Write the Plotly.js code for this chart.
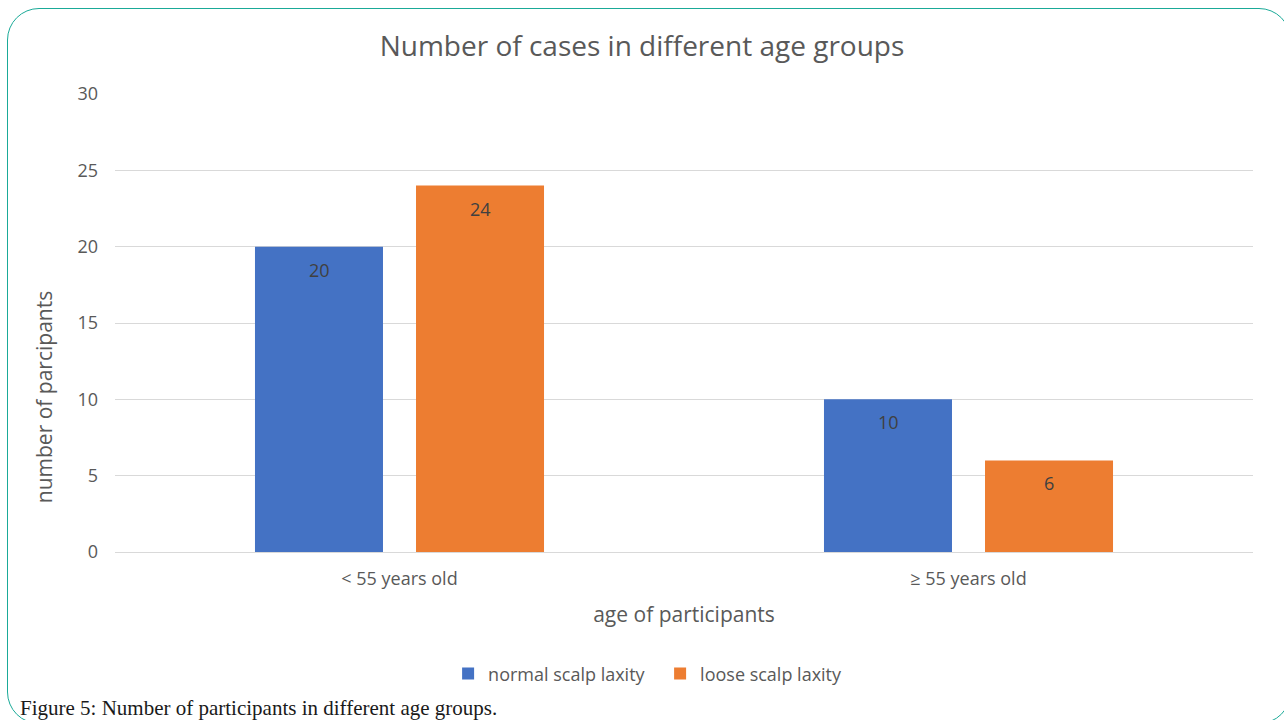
<!DOCTYPE html>
<html><head><meta charset="utf-8">
<script src="https://cdn.plot.ly/plotly-3.0.1.min.js"></script>
<style>
html,body{margin:0;padding:0;background:#fff;}
#frame{position:absolute;left:7px;top:8px;width:1284px;height:716px;border:1.5px solid #1aaa98;border-radius:32px;box-sizing:border-box;}
#chart{position:absolute;left:0;top:0;width:1284px;height:720px;}
</style></head>
<body>
<div id="frame"></div>
<div id="chart"></div>
<script>
const categories = ["< 55 years old", "\u2265 55 years old"];
const normalScalp = [20, 10];
const looseScalp = [24, 6];
const seriesNames = ["normal scalp laxity", "loose scalp laxity"];
const yTicks = [0, 5, 10, 15, 20, 25, 30];

const FONT = "Open Sans, sans-serif";
const GRAY = "#595959";
const series = [normalScalp, looseScalp];
const colors = ["#4472C4", "#ED7D31"];
const traces = series.map((vals, i) => ({
  type: "bar", name: seriesNames[i], x: categories, y: vals, marker: {color: colors[i]}, hoverinfo: "none"
}));
// value labels sit just inside the top of each bar
const slotShift = [-80.5, 80.5];
const valueLabels = [];
series.forEach((vals, i) => vals.forEach((v, j) => valueLabels.push({
  x: categories[j], y: v, xref: "x", yref: "y", text: String(v), showarrow: false,
  xshift: slotShift[i], yshift: -23, yanchor: "middle", xanchor: "center",
  font: {family: FONT, size: 18, color: "#404040"}
})));

const layout = {
  width: 1284, height: 720,
  paper_bgcolor: "rgba(0,0,0,0)", plot_bgcolor: "rgba(0,0,0,0)",
  margin: {l: 115, r: 31, t: 94, b: 168},
  barmode: "group", bargap: 0.434, bargroupgap: 0.205,
  font: {family: FONT, color: GRAY},
  title: {text: "Number of cases in different age groups", x: 0.5, xanchor: "center", y: 1 - 46/720, yanchor: "middle", yref: "container",
          font: {size: 28, color: GRAY, family: FONT}},
  xaxis: {type: "category", showline: false, ticks: "", ticklabelstandoff: 14, tickfont: {size: 18, color: GRAY},
          title: {text: "age of participants", font: {size: 21, color: GRAY}, standoff: 18}},
  yaxis: {range: [0, 30], tickvals: yTicks, showgrid: true, gridcolor: "#d9d9d9", gridwidth: 1, zeroline: true, zerolinecolor: "#d9d9d9",
          showline: false, ticks: "", ticklabelstandoff: 16, tickfont: {size: 18, color: GRAY}},
  showlegend: true,
  legend: {orientation: "h", x: 0.479, xanchor: "center", y: -0.266, yanchor: "middle", font: {size: 18, color: GRAY},
           itemwidth: 30, entrywidth: 167, traceorder: "normal"},
  annotations: valueLabels.concat([
    {text: "number of parcipants", xref: "paper", yref: "paper", x: (44-115)/1138, y: 0.338, textangle: -90,
     xanchor: "center", yanchor: "middle", showarrow: false, font: {family: FONT, size: 21, color: GRAY}},
    {text: "Figure 5: Number of participants in different age groups.", xref: "paper", yref: "paper",
     x: (18-115)/1138, xanchor: "left", y: -0.34, yanchor: "middle", showarrow: false,
     font: {family: "Liberation Serif, serif", size: 21, color: "#1a1a1a"}}
  ])
};
Plotly.newPlot("chart", traces, layout, {displayModeBar: false, staticPlot: true});
</script>
</body></html>
